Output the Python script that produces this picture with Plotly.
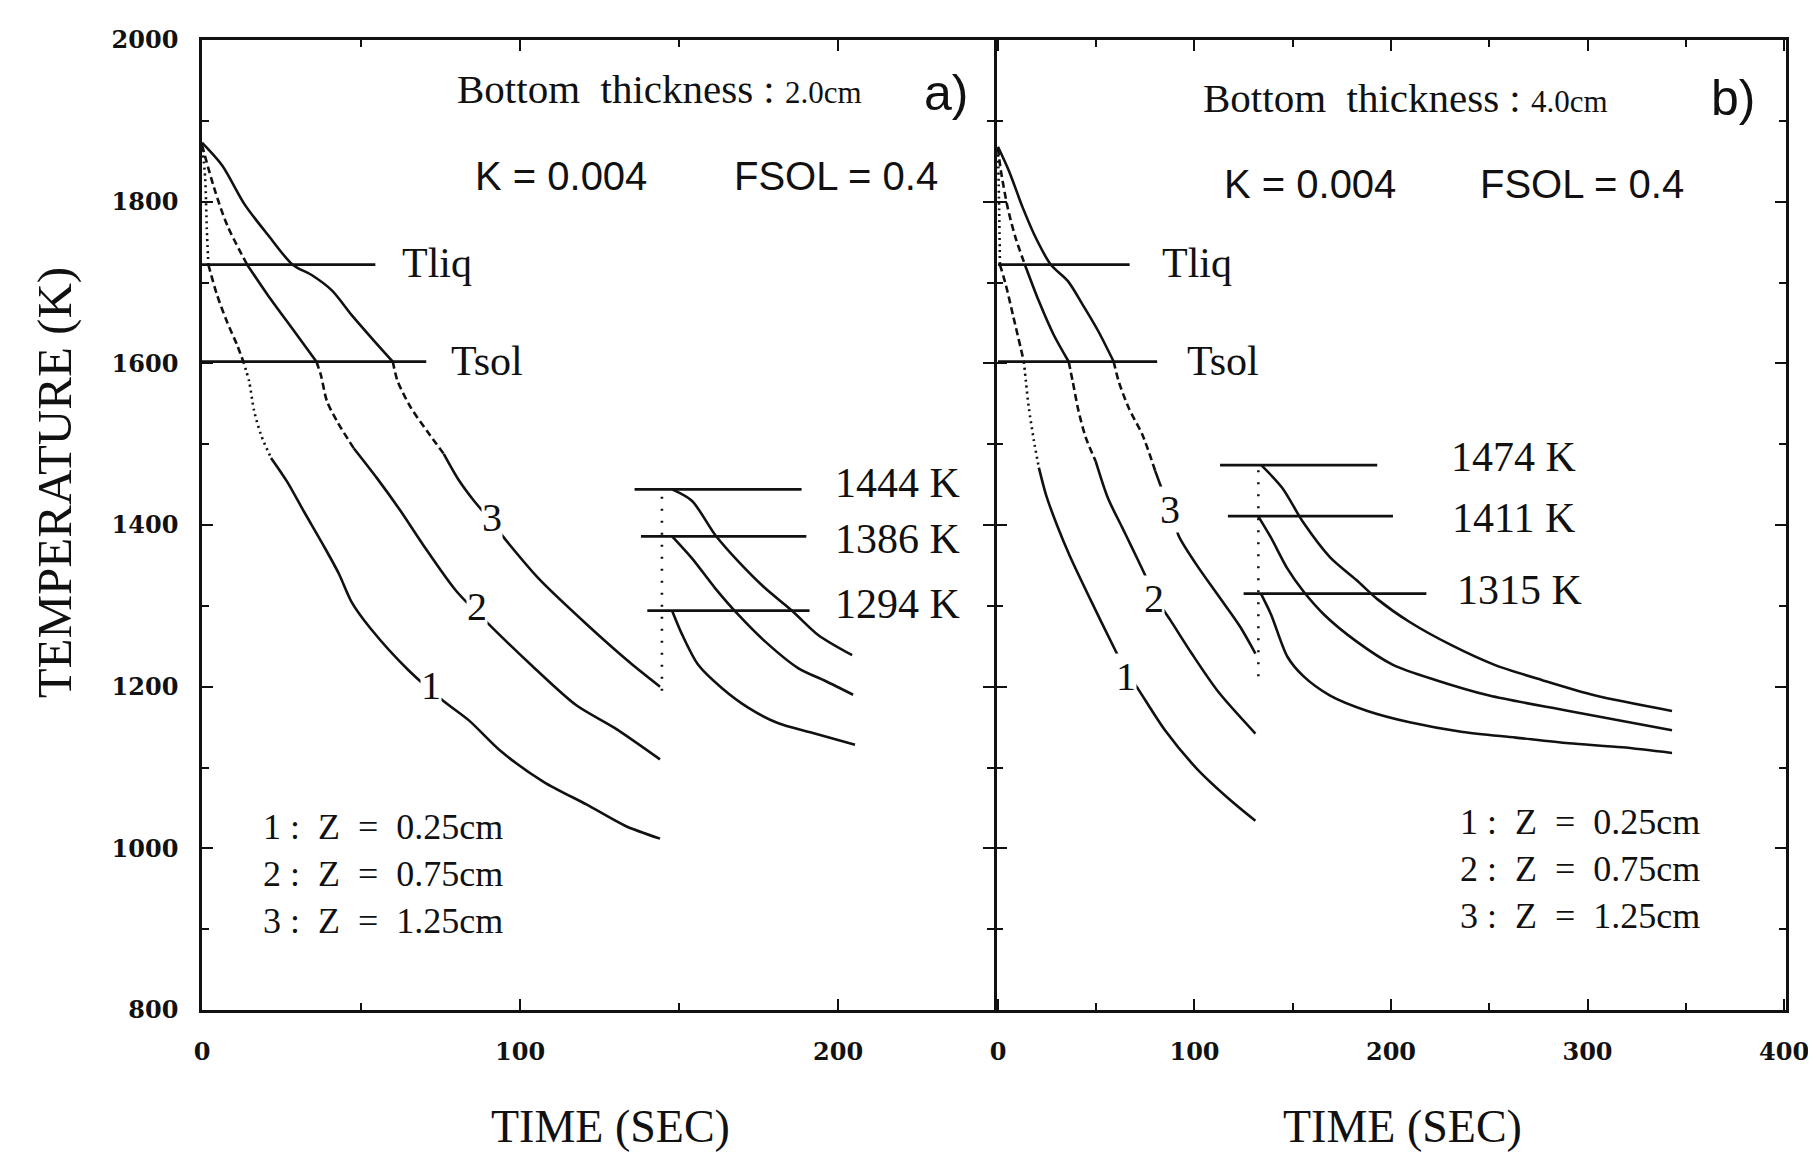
import plotly.graph_objects as go

# ---------------- data ----------------
T_LIQ = 1722
T_SOL = 1602

# Panel a) bottom thickness 2.0 cm  (time s, temperature K)
a_t1 = [0, 1, 1.5, 2, 4.7, 7.8, 11, 13, 14.8, 16.4, 18.6, 21.7, 26.7, 32, 38, 43, 47, 53, 65, 76, 84, 94, 107.5, 121, 133, 144]
a_T1 = [1872, 1829, 1767, 1722, 1685, 1652, 1623, 1602, 1578, 1541, 1511, 1483, 1454, 1417, 1376, 1340, 1305, 1272, 1220, 1182, 1158, 1120, 1082, 1054, 1028, 1012]
a_t2 = [0, 3.8, 7.9, 14.2, 20.6, 28.2, 36, 37.4, 39.3, 42.5, 47.7, 55, 62.5, 69.6, 80, 91, 104, 117.7, 129.7, 144]
a_T2 = [1870, 1817, 1771, 1722, 1685, 1644, 1602, 1585, 1553, 1528, 1495, 1458, 1417, 1375, 1318, 1274, 1225, 1177, 1149, 1110]
a_t3 = [0, 6.3, 13.5, 20.7, 28.5, 34.6, 40.9, 47, 53.4, 60, 61.5, 65.7, 70.8, 76, 80.5, 85.3, 90, 95.6, 105.8, 121, 134.8, 144]
a_T3 = [1873, 1845, 1796, 1759, 1722, 1709, 1690, 1660, 1631, 1602, 1578, 1545, 1516, 1488, 1457, 1431, 1409, 1381, 1334, 1277, 1229, 1200]
a_t1b = [147.8, 151, 156, 163.5, 171.7, 181, 191.8, 205.3]
a_T1b = [1294, 1264, 1227, 1198, 1174, 1155, 1143, 1128]
a_t2b = [147.8, 154, 161.3, 168.6, 177, 187.4, 196, 204.7]
a_T2b = [1386, 1359, 1322, 1289, 1256, 1223, 1207, 1190]
a_t3b = [147.8, 154, 161.3, 168.6, 177, 185.5, 193.7, 204.4]
a_T3b = [1444, 1430, 1388, 1355, 1322, 1294, 1264, 1239]
a_levels = [1444, 1386, 1294]
a_level_spans = [[136, 188.5], [138, 190], [140, 191]]
a_liq_span = [0, 54.5]
a_sol_span = [0, 70.5]
a_jump_t = 144.6
a_jump_T = [1195, 1444]

# Panel b) bottom thickness 4.0 cm
b_t1 = [0, 0.6, 1, 4, 7.6, 13.2, 14.2, 15.7, 18.3, 20.8, 24.5, 30, 36.5, 47, 59.5, 65, 71.6, 85, 101, 117.6, 131]
b_T1 = [1866, 1790, 1722, 1697, 1660, 1602, 1578, 1545, 1504, 1471, 1437, 1400, 1362, 1308, 1246, 1220, 1196, 1146, 1099, 1061, 1034]
b_t2 = [0, 1.5, 5, 9, 13.7, 20.8, 28.4, 36, 38, 41, 44.7, 49.7, 56, 63, 68, 74.3, 80, 87.8, 98.6, 112, 131]
b_T2 = [1866, 1838, 1792, 1755, 1722, 1677, 1635, 1602, 1578, 1541, 1508, 1479, 1433, 1398, 1373, 1341, 1311, 1282, 1241, 1194, 1142]
b_t3 = [0, 5.6, 12.7, 19.3, 26.9, 35.5, 43, 51, 58.9, 61.4, 66.5, 73.6, 80, 85, 88.8, 91.9, 101, 112, 123, 131]
b_T3 = [1868, 1838, 1792, 1755, 1722, 1702, 1673, 1640, 1602, 1578, 1545, 1511, 1467, 1435, 1417, 1387, 1351, 1313, 1275, 1241]
b_t1b = [133.8, 139, 147.3, 155.4, 169, 188, 209.5, 236.5, 263.5, 290.5, 317.6, 343]
b_T1b = [1315, 1289, 1237, 1213, 1189, 1170, 1156, 1144, 1137, 1130, 1125, 1118]
b_t2b = [132.4, 139, 147.3, 155.4, 166, 182.4, 201, 223, 250, 290.5, 343]
b_T2b = [1411, 1384, 1346, 1318, 1289, 1256, 1227, 1208, 1189, 1170, 1146]
b_t3b = [134, 144.6, 155.4, 169, 182.4, 193.2, 209.5, 231, 252.7, 277, 304, 343]
b_T3b = [1474, 1446, 1403, 1360, 1332, 1308, 1280, 1251, 1227, 1208, 1189, 1170]
b_levels = [1474, 1411, 1315]
b_level_spans = [[113, 193], [117, 201], [125, 218]]
b_liq_span = [0, 67]
b_sol_span = [0, 81]
b_jump_t = 132.5
b_jump_T = [1213, 1474]

y_ticks = [800, 1000, 1200, 1400, 1600, 1800, 2000]
a_x_ticks = [0, 100, 200]
b_x_ticks = [0, 100, 200, 300, 400]
legend_lines = ["1 :  Z  =  0.25cm", "2 :  Z  =  0.75cm", "3 :  Z  =  1.25cm"]

# ---------------- styling ----------------
INK = "#111111"
LW = 2.6
DOT = "2px,4px"
DASH = "7px,4px"
SERIF = "Liberation Serif, Times New Roman, serif"
SANS = "Liberation Sans, Arial, sans-serif"

fig = go.Figure()


def line(x, y, xa, ya, dash="solid", width=LW, smooth=False):
    ln = dict(color=INK, width=width, dash=dash)
    if smooth:
        ln.update(shape="spline", smoothing=0.8)
    fig.add_trace(go.Scatter(x=x, y=y, mode="lines", xaxis=xa, yaxis=ya,
                             line=ln, showlegend=False, hoverinfo="skip"))


def styled_curve(t, T, styles, xa, ya):
    for lo, hi, dash in styles:
        xs = [x for x, y in zip(t, T) if lo <= y <= hi]
        ys = [y for y in T if lo <= y <= hi]
        if len(xs) > 1:
            line(xs, ys, xa, ya, dash, smooth=True)


# panel a curves
styled_curve(a_t3, a_T3, [(T_SOL, 2000, "solid"), (1488, T_SOL, DASH), (0, 1488, "solid")], "x", "y")
styled_curve(a_t2, a_T2, [(T_LIQ, 2000, DASH), (T_SOL, T_LIQ, "solid"), (1495, T_SOL, DASH), (0, 1495, "solid")], "x", "y")
styled_curve(a_t1, a_T1, [(T_LIQ, 2000, DOT), (T_SOL, T_LIQ, DASH), (1483, T_SOL, DOT), (0, 1483, "solid")], "x", "y")
for t, T in [(a_t1b, a_T1b), (a_t2b, a_T2b), (a_t3b, a_T3b)]:
    line(t, T, "x", "y", smooth=True)
line(a_liq_span, [T_LIQ, T_LIQ], "x", "y", width=2.8)
line(a_sol_span, [T_SOL, T_SOL], "x", "y", width=2.8)
for lev, span in zip(a_levels, a_level_spans):
    line(span, [lev, lev], "x", "y", width=2.8)
line([a_jump_t, a_jump_t], a_jump_T, "x", "y", dash="2px,10px")

# panel b curves
styled_curve(b_t3, b_T3, [(T_SOL, 2000, "solid"), (1467, T_SOL, DASH), (0, 1467, "solid")], "x2", "y2")
styled_curve(b_t2, b_T2, [(T_LIQ, 2000, DASH), (T_SOL, T_LIQ, "solid"), (1479, T_SOL, DASH), (0, 1479, "solid")], "x2", "y2")
styled_curve(b_t1, b_T1, [(T_LIQ, 2000, DOT), (T_SOL, T_LIQ, DASH), (1471, T_SOL, DOT), (0, 1471, "solid")], "x2", "y2")
for t, T in [(b_t1b, b_T1b), (b_t2b, b_T2b), (b_t3b, b_T3b)]:
    line(t, T, "x2", "y2", smooth=True)
line(b_liq_span, [T_LIQ, T_LIQ], "x2", "y2", width=2.8)
line(b_sol_span, [T_SOL, T_SOL], "x2", "y2", width=2.8)
for lev, span in zip(b_levels, b_level_spans):
    line(span, [lev, lev], "x2", "y2", width=2.8)
line([b_jump_t, b_jump_t], b_jump_T, "x2", "y2", dash="2px,10px")

ann = []


def txt(x, y, s, xr, yr, size=40, family=SERIF, xanchor="center", yanchor="middle", bg=None, align="center"):
    d = dict(x=x, y=y, text=s, xref=xr, yref=yr, showarrow=False,
             font=dict(family=family, size=size, color=INK),
             xanchor=xanchor, yanchor=yanchor, align=align)
    if bg:
        d["bgcolor"] = bg
        d["borderpad"] = 0
    ann.append(d)


# panel a text
txt(143.7, 1939, "Bottom  thickness : <span style='font-size:31px'>2.0cm</span>", "x", "y", size=41)
txt(234, 1935, "a)", "x", "y", size=50, family=SANS)
txt(113, 1832, "K = 0.004", "x", "y", size=40, family=SANS)
txt(199.4, 1832, "FSOL = 0.4", "x", "y", size=40, family=SANS)
txt(74, 1724, "Tliq", "x", "y", size=42)
txt(89.7, 1603, "Tsol", "x", "y", size=42)
for lev, yy in zip(a_levels, [1452, 1383, 1302]):
    txt(218.8, yy, f"{lev} K", "x", "y", size=42)
txt(91.2, 1409, "3", "x", "y", size=40, bg="white")
txt(86.5, 1299, "2", "x", "y", size=40, bg="white")
txt(71.9, 1202, "1", "x", "y", size=40, bg="white")
txt(18.5, 968, "<br>".join(legend_lines), "x", "y", size=36, xanchor="left", align="left")

# panel b text
txt(207.6, 1928, "Bottom  thickness : <span style='font-size:31px'>4.0cm</span>", "x2", "y2", size=41)
txt(374, 1928, "b)", "x2", "y2", size=50, family=SANS)
txt(159, 1822, "K = 0.004", "x2", "y2", size=40, family=SANS)
txt(297, 1822, "FSOL = 0.4", "x2", "y2", size=40, family=SANS)
txt(101.4, 1724, "Tliq", "x2", "y2", size=42)
txt(114.4, 1603, "Tsol", "x2", "y2", size=42)
for lev, yy, xx in zip(b_levels, [1484, 1409, 1320], [262.3, 262.3, 265.2]):
    txt(xx, yy, f"{lev} K", "x2", "y2", size=42)
txt(87.3, 1419, "3", "x2", "y2", size=40, bg="white")
txt(79.6, 1309, "2", "x2", "y2", size=40, bg="white")
txt(64.9, 1213, "1", "x2", "y2", size=40, bg="white")
txt(234, 975, "<br>".join(legend_lines), "x2", "y2", size=36, xanchor="left", align="left")

# axis titles
txt(0.2576, -0.1196, "TIME (SEC)", "paper", "paper", size=46)
txt(0.758, -0.1196, "TIME (SEC)", "paper", "paper", size=46)
ann.append(dict(x=-0.0934, y=0.543, xref="paper", yref="paper", text="TEMPERATURE (K)",
                showarrow=False, textangle=-90, font=dict(family=SERIF, size=49, color=INK),
                xanchor="center", yanchor="middle"))

tickfont = dict(family="DejaVu Serif, serif", size=24, color=INK, weight="bold")
axis_common = dict(showline=True, linecolor=INK, linewidth=2.6, mirror="ticks",
                   ticks="inside", ticklen=11, tickwidth=2.4, tickcolor=INK,
                   showgrid=False, zeroline=False, tickfont=tickfont)
minor_x = dict(dtick=50, tick0=0, ticks="inside", ticklen=7, tickwidth=2, tickcolor=INK)
minor_y = dict(dtick=100, tick0=0, ticks="inside", ticklen=7, tickwidth=2, tickcolor=INK)

fig.update_layout(
    width=1816, height=1154,
    margin=dict(l=194, r=38, t=32, b=152),
    paper_bgcolor="white", plot_bgcolor="white",
    showlegend=False,
    annotations=ann,
    xaxis=dict(domain=[0, 0.5], range=[0, 249], tickvals=a_x_ticks, ticklabelstandoff=18,
               minor=minor_x, anchor="y", **axis_common),
    yaxis=dict(domain=[0, 1], range=[800, 2000], tickvals=y_ticks, ticklabelstandoff=16,
               minor=minor_y, anchor="x", **axis_common),
    xaxis2=dict(domain=[0.50164, 1], range=[-0.7, 401], tickvals=b_x_ticks, ticklabelstandoff=18,
                minor=minor_x, anchor="y2", **axis_common),
    yaxis2=dict(domain=[0, 1], range=[800, 2000], tickvals=y_ticks, showticklabels=False,
                minor=minor_y, anchor="x2", **axis_common),
)

fig.write_html("out.html")
